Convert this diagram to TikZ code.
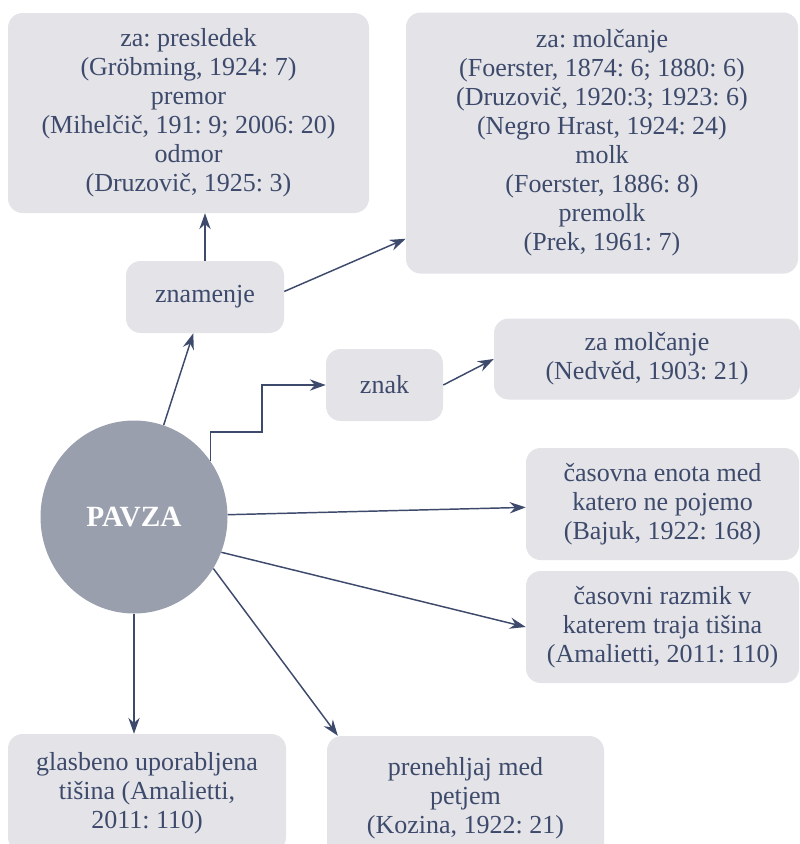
\documentclass[tikz,border=0pt]{standalone}
\usepackage{fontspec}
\setmainfont{Liberation Serif}
\usetikzlibrary{arrows.meta, shapes.geometric}
\definecolor{ink}{HTML}{3D4A6B}
\definecolor{boxgray}{HTML}{E3E3E8}
\definecolor{hubgray}{HTML}{9A9FAE}
\frenchspacing
\begin{document}
\begin{tikzpicture}[x=0.75pt, y=-0.75pt,
    every node/.style={font=\fontsize{19.5}{21.75}\selectfont, text=ink, align=center, inner sep=0pt},
    box/.style 2 args={rectangle, rounded corners=11pt, fill=boxgray, minimum width=#1*0.75pt, minimum height=#2*0.75pt},
    arr/.style={-{Stealth[length=12pt, width=8.5pt, inset=4pt]}, draw=ink, line width=1.1pt}]
	\useasboundingbox (0,0) rectangle (800,844);
	\node[ellipse, fill=hubgray, minimum width=187*0.75pt, minimum height=193*0.75pt, text=white, font=\fontsize{22}{26}\selectfont\bfseries] (pavza) at (134,517) {PAVZA};
	\node[box={158}{72}] (znamenje) at (205,297) {znamenje};
	\node[box={117}{72}] (znak) at (384.5,385) {znak};
	\node[box={361}{200}] (presledek) at (188.5,113) {za: presledek\\(Gröbming, 1924: 7)\\premor\\(Mihelčič, 191: 9; 2006: 20)\\odmor\\(Druzovič, 1925: 3)};
	\node[box={392}{261}] (molcanje) at (602,143) {za: molčanje\\(Foerster, 1874: 6; 1880: 6)\\(Druzovič, 1920:3; 1923: 6)\\(Negro Hrast, 1924: 24)\\molk\\(Foerster, 1886: 8)\\premolk\\(Prek, 1961: 7)};
	\node[box={306}{81}] (nedved) at (647,359) {za molčanje\\(Nedvěd, 1903: 21)};
	\node[box={273}{112}] (enota) at (662.5,504) {časovna enota med\\katero ne pojemo\\(Bajuk, 1922: 168)};
	\node[box={273}{112}] (razmik) at (662.5,627) {časovni razmik v\\katerem traja tišina\\(Amalietti, 2011: 110)};
	\node[box={278}{118}] (glasbeno) at (147,793) {glasbeno uporabljena\\tišina (Amalietti,\\2011: 110)};
	\node[box={277}{124}] (prenehljaj) at (465.5,798) {prenehljaj med\\petjem\\(Kozina, 1922: 21)};
	\coordinate (bend) at (262,432);
	\draw[arr] (pavza) -- (znamenje);
	\draw[arr] (znamenje.north) -- (znamenje.north |- presledek.south);
	\draw[arr] (znamenje.4) -- (molcanje.206);
	\draw[arr] (pavza.36) |- (bend) |- (znak.west);
	\draw[arr] (znak.east) -- (nedved.west);
	\draw[arr] (pavza) -- (enota);
	\draw[arr] (pavza.338) -- (razmik.west);
	\draw[arr] (pavza.327) -- (prenehljaj.154);
	\draw[arr] (pavza.south) -- (pavza.south |- glasbeno.north);
\end{tikzpicture}
\end{document}
